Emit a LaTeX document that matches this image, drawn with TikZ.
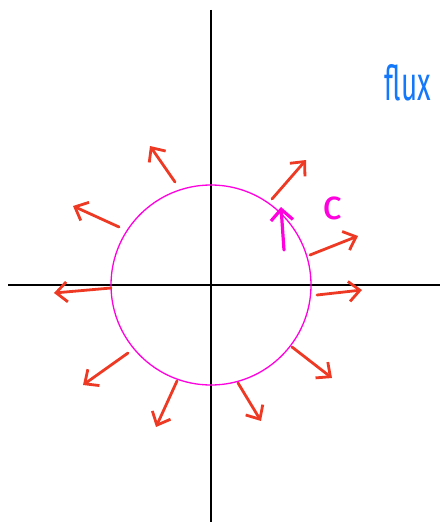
\documentclass[tikz,border=0pt]{standalone}
\usepackage{fontspec}
\setsansfont{Fira Sans}
\usepackage{xcolor}
\usetikzlibrary{arrows.meta}
\definecolor{fluxred}{RGB}{238,58,36}
\definecolor{pathpink}{RGB}{255,0,222}
\definecolor{labelblue}{RGB}{20,120,250}

\begin{document}
\begin{tikzpicture}[x=1pt,y=-1pt,
  axisline/.style={draw=black,line width=1.6pt},
  fluxarrow/.style={draw=fluxred,line width=2.8pt,line cap=round,-{Straight Barb[length=11pt,width=20pt,line width=2.8pt]}},
  tangentarrow/.style={draw=pathpink,line width=3.2pt,line cap=round,-{Straight Barb[length=11pt,width=22pt,line width=3.2pt]}}]
\useasboundingbox (0,0) rectangle (441,524);
% axes
\coordinate (o) at (211,285);
\draw[axisline] (211,10) coordinate (ytop) -- (211,522) coordinate (ybot);
\draw[axisline] (8,285) coordinate (xl) -- (440,285) coordinate (xr);
% the closed path C
\draw[pathpink,line width=1.3pt] (o) circle[radius=100];
% outward flux arrows
\foreach \i/\sx/\sy/\tx/\ty in {1/175/182/150/146,2/119/227/73/206,3/111/288/54/293,
  4/128/353/83/385,5/177/381/156/427,6/238/383/261/421,7/292/347/332/378,
  8/317/295/362/290,9/310/255/358/236,10/272/199/306/160}{
  \coordinate (s\i) at (\sx,\sy);
  \coordinate (t\i) at (\tx,\ty);
  \draw[fluxarrow] (s\i) -- (t\i);
}
% tangent direction along C
\coordinate (ts) at (284,250);
\coordinate (tt) at (281,207);
\draw[tangentarrow] (ts) -- (tt);
\node[text=pathpink,font=\sffamily\fontsize{42}{42}\selectfont] (clabel) at (333,208) {c};
\node[text=labelblue,font=\sffamily\fontsize{48}{48}\selectfont,xscale=0.58] (fluxlabel) at (408,83) {flux};
\end{tikzpicture}
\end{document}
